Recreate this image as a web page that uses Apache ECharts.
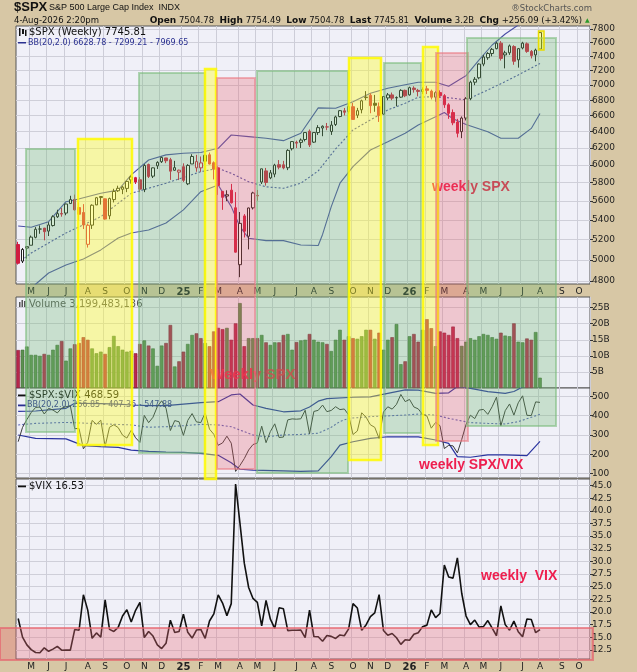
<!DOCTYPE html>
<html><head><meta charset="utf-8">
<script src="https://cdn.jsdelivr.net/npm/echarts@6/dist/echarts.min.js"></script>
<style>html,body{margin:0;padding:0;background:#d7c7a5;}#c{width:637px;height:672px;}</style>
</head><body><div id="c"></div>
<script>
// ---------- DATA ----------
const firstWeek = '2024-04-15';
const weekCount = 132;
const spxOpen = [5149,4987,5114,5142,5221,5305,5315,5284,5341,5432,5466,5471,5572,5615,5529,5477,5151,5345,5557,5637,
5623,5442,5615,5711,5727,5737,5832,5857,5833,5723,6008,5874,5992,6040,6084,6063,5941,5920,5982,5788,
6014,5969,5969,6046,6121,6027,5969,5705,5653,5718,5527,4953,5441,5232,5526,5655,5808,5934,5855,5897,
6005,6004,5970,6193,6270,6269,6304,6406,6272,6389,6445,6457,6401,6489,6590,6662,6654,6715,6606,6676,
6834,6865,6760,6715,6620,6830,6870,6830,6840,6930,6870,6960,6930,6915,6950,6920,6840,6900,6860,6740,
6640,6520,6400,6570,6820,7040,7100,7290,7380,7440,7510,7590,7420,7450,7540,7350,7520,7580,7470,7420,7504.78];
const spxHigh = [5176,5114,5124,5239,5325,5342,5316,5376,5448,5506,5524,5570,5656,5669,5585,5566,5360,5564,5643,5651,
5626,5636,5733,5767,5765,5822,5879,5866,5863,6012,6018,5973,6045,6099,6085,6085,6050,5949,6021,6011,
6128,6120,6101,6128,6147,6043,5986,5705,5716,5787,5696,5482,5460,5528,5700,5720,5959,5968,5944,6016,
6059,6050,6187,6284,6290,6316,6390,6427,6395,6481,6478,6508,6532,6600,6672,6699,6750,6764,6700,6807,
6920,6890,6870,6770,6853,6895,6901,6850,6945,6940,6980,6985,6950,6970,6990,6940,6920,6930,6880,6760,
6680,6560,6590,6840,7060,7110,7300,7420,7460,7520,7610,7620,7480,7570,7560,7520,7610,7600,7490,7510,7754.49];
const spxLow = [4954,4969,5011,5142,5211,5257,5191,5234,5331,5420,5433,5448,5571,5497,5390,5305,5119,5306,5560,5561,
5402,5406,5584,5698,5674,5696,5790,5786,5696,5696,5853,5853,5956,6025,6023,5832,5935,5830,5809,5774,
6014,5924,5923,6003,6009,5837,5666,5505,5598,5572,5070,4835,5220,5101,5509,5603,5786,5768,5840,5862,
5952,5952,5943,6172,6201,6202,6281,6213,6262,6360,6344,6418,6360,6470,6580,6603,6627,6550,6570,6630,
6800,6631,6650,6521,6610,6800,6800,6720,6830,6840,6860,6900,6850,6880,6880,6810,6780,6830,6700,6560,
6480,6330,6320,6540,6800,7000,7080,7260,7350,7400,7500,7340,7230,7420,7280,7240,7500,7450,7370,7330,7504.78];
const spxClose = [4967,5100,5128,5223,5303,5305,5278,5347,5432,5465,5460,5567,5615,5505,5459,5347,5344,5554,5635,5648,
5408,5626,5703,5738,5751,5815,5865,5808,5729,5996,5871,5969,6032,6090,6051,5931,5971,5942,5827,5997,
6101,6041,6026,6115,6013,5955,5770,5639,5668,5581,5074,5363,5283,5525,5687,5660,5958,5803,5912,6000,
5977,5968,6173,6279,6260,6297,6389,6238,6389,6450,6467,6460,6482,6584,6664,6644,6716,6553,6664,6792,
6840,6729,6734,6603,6849,6870,6827,6835,6930,6858,6966,6940,6916,6939,6930,6840,6900,6860,6740,6630,
6510,6380,6570,6820,7040,7080,7290,7390,7440,7500,7590,7370,7450,7550,7330,7510,7590,7470,7410,7489.72,7745.81];
// weekly volume, billions
const volumeB = [11.8,11.9,12.9,10.3,10.3,10.0,10.6,10.3,11.9,13.4,14.6,8.5,12.3,13.6,14.0,15.8,15.0,12.3,10.8,11.3,
10.6,12.7,16.2,13.0,11.9,11.3,11.6,10.8,13.7,14.8,13.2,12.3,6.9,13.2,14.0,19.6,6.7,8.3,11.3,13.7,
16.5,17.0,15.5,14.0,13.0,17.6,18.7,18.3,18.7,15.0,20.1,26.4,13.0,15.5,15.5,15.5,16.5,14.2,13.4,14.2,
14.2,16.5,16.8,11.9,14.3,14.8,15.0,16.8,15.0,14.4,14.2,13.7,11.5,15.0,18.1,15.0,16.1,15.5,15.3,16.1,
18.1,18.1,15.3,17.2,11.9,15.0,15.8,19.9,7.4,8.3,16.1,16.8,14.4,18.1,21.4,18.6,13.0,17.6,17.2,16.5,
19.1,15.5,13.1,14.4,15.5,15.0,16.1,16.8,16.5,15.8,15.3,17.2,16.3,16.1,20.1,14.4,14.2,15.4,15.0,17.4,3.2];
const vix = [18.71,15.03,13.49,12.55,11.99,11.93,12.92,12.22,12.66,13.20,12.44,12.48,12.46,16.52,16.39,23.39,20.37,14.80,15.86,15.00,
22.38,16.56,16.15,16.96,19.21,20.46,18.03,20.33,21.88,14.94,16.14,15.24,13.51,12.77,13.81,18.36,15.95,16.13,19.54,15.97,
14.85,16.43,16.54,14.77,18.21,19.63,23.37,21.77,19.28,21.65,45.31,37.56,29.65,24.84,22.68,21.90,17.24,22.29,18.57,16.77,
20.82,20.62,16.32,16.38,16.40,16.41,14.93,20.38,15.15,15.09,14.22,15.36,15.18,14.76,15.45,15.29,16.65,21.66,20.78,16.37,
17.44,19.08,19.83,23.43,16.35,15.41,15.74,14.91,13.60,14.51,14.4,15.6,15.9,17.1,17.4,20.4,18.9,19.7,29.3,26.9,
26.7,30.7,23.7,19.2,17.5,18.4,17.0,17.1,18.3,16.8,15.3,21.2,17.5,16.4,18.2,16.1,15.1,18.6,18.5,15.9,16.53];
const spxVixRatio = [265.5,339.3,380.1,416.2,442.3,444.7,408.5,437.6,429.1,414.0,438.9,446.1,450.6,333.2,333.1,228.6,262.3,375.3,355.3,376.5,
241.6,339.7,353.1,338.3,299.4,284.2,325.3,285.7,261.8,401.3,363.8,391.7,446.5,476.9,438.2,323.0,374.4,368.4,298.2,375.5,
410.8,367.7,364.3,414.0,330.2,303.4,246.9,259.0,294.0,257.8,112.0,142.8,178.2,222.4,250.7,258.4,345.6,260.3,318.4,357.8,
287.1,289.4,378.2,383.3,381.7,383.7,427.9,306.1,421.7,427.4,454.8,420.6,427.0,446.1,431.3,434.5,403.4,302.5,320.7,414.9,
392.2,352.7,339.6,281.8,418.9,445.8,433.7,458.4,509.6,472.6,483.8,444.9,435.0,405.8,398.3,335.3,365.1,348.2,230.0,246.5,
243.8,207.8,277.2,355.2,402.3,384.8,428.8,432.2,406.6,446.4,496.1,347.6,425.7,460.4,402.7,466.5,502.6,401.6,400.5,471.1,468.6];
// Bollinger bands as [week index, value]
const spxBBUpper = [[0,5337],[3,5323],[7,5381],[11,5592],[13,5610],[19,5683],[23,5718],[26,5888],[30,6060],[34,6120],[38,6140],[42,6148],[46,6198],[49,6359],[53,6339],[57,6319],[61,6290],[65,6381],[69,6700],[73,6696],[77,6781],[81,6891],[85,6958],[89,7006],[92,7040],[96,7040],[99,6985],[102,7093],[103,7130],[106,7348],[109,7563],[112,7725],[115,7860],[118,7930],[120,7970]];
const spxBBMiddle = [[0,4969],[3,5066],[11,5265],[19,5433],[26,5683],[34,5795],[42,5925],[46,5964],[49,5906],[53,5811],[57,5755],[61,5738],[65,5795],[69,5934],[73,6190],[77,6421],[81,6546],[85,6673],[89,6760],[92,6839],[96,6847],[100,6826],[103,6804],[108,6935],[112,7048],[115,7139],[120,7299]];
const spxBBLower = [[0,4600],[4,4770],[7,4874],[11,4950],[15,5008],[19,5096],[23,5215],[26,5265],[30,5296],[34,5367],[38,5504],[42,5701],[46,5775],[49,5539],[51,5329],[53,5212],[57,5188],[61,5188],[65,5145],[69,5140],[70,5250],[72,5539],[74,5795],[77,5983],[81,6178],[85,6277],[89,6380],[92,6483],[96,6588],[98,6640],[100,6560],[103,6490],[108,6400],[111,6319],[115,6319],[118,6440],[120,6629]];
const ratioBBUpper = [[0,422],[4,424],[11,438],[13,464],[19,462],[23,460],[26,455],[30,452],[34,452],[38,460],[42,467],[46,472],[49,507],[51,512],[54,455],[57,438],[61,420],[65,425],[67,445],[69,475],[71,488],[77,495],[81,497],[85,515],[89,533],[92,532],[96,515],[99,518],[101,550],[104,541],[108,524],[112,515],[114,525],[116,548],[118,560],[120,548]];
const ratioBBMiddle = [[0,352],[4,360],[11,365],[19,358],[26,352],[30,340],[34,343],[38,348],[42,355],[46,352],[49,343],[54,300],[57,291],[61,300],[65,303],[69,309],[72,340],[74,370],[76,386],[81,395],[89,403],[92,408],[96,403],[99,386],[104,364],[108,360],[112,357],[115,369],[120,407]];
const ratioBBLower = [[0,300],[4,283],[11,280],[15,245],[19,240],[23,236],[26,222],[30,215],[34,212],[38,210],[42,205],[46,195],[49,157],[51,123],[54,119],[61,115],[65,112],[69,115],[72,188],[74,248],[77,265],[81,283],[85,291],[92,290],[96,274],[99,257],[101,188],[104,185],[108,197],[112,197],[117,193],[120,267]];
const priceTicks = [4800,5000,5200,5400,5600,5800,6000,6200,6400,6600,6800,7000,7200,7400,7600,7800];
const volumeTicks = [5,10,15,20,25];
const ratioTicks = [100,200,300,400,500];
const vixTicks = [12.5,15,17.5,20,22.5,25,27.5,30,32.5,35,37.5,40,42.5,45];
const monthLetters = ['J','F','M','A','M','J','J','A','S','O','N','D'];

// ---------- BUILD ----------
const cats = [];
const t0 = Date.parse(firstWeek + 'T00:00:00Z');
for (let k = 0; k < weekCount; k++) cats.push(new Date(t0 + k * 7 * 86400000).toISOString().slice(0, 10));
const isMonthStart = (idx, val) => parseInt(String(val).slice(8, 10), 10) <= 7;
const monthLabel = (val) => {
  const m = parseInt(val.slice(5, 7), 10) - 1;
  return m === 0 ? '{y|' + val.slice(2, 4) + '}' : monthLetters[m];
};
const L = v => Math.log10(v);
const RED = '#d01c40', BLK = '#1e1e1e';
const candleData = spxClose.map((c, i) => {
  const o = spxOpen[i];
  const prev = i > 0 ? spxClose[i - 1] : o;
  const col = c < prev ? RED : BLK;
  const fill = c > o ? '#ffffff' : col;
  return { value: [L(o), L(c), L(spxLow[i]), L(spxHigh[i])],
    itemStyle: { color: fill, color0: fill, borderColor: col, borderColor0: col, borderWidth: 1 } };
});
const volData = volumeB.map((v, i) => {
  const up = i > 0 ? spxClose[i] >= spxClose[i - 1] : spxClose[i] >= spxOpen[i];
  return { value: v, itemStyle: { color: up ? '#5b9050' : '#b8284c', borderColor: up ? '#3c6a34' : '#8a1434', borderWidth: 0.6 } };
});
const logPairs = a => a.map(p => [p[0], L(p[1])]);

const FONT = 'DejaVu Sans';
const grids = [
  { left: 16, width: 574, top: 26, height: 258 },
  { left: 16, width: 574, top: 297, height: 91 },
  { left: 16, width: 574, top: 388, height: 90 },
  { left: 16, width: 574, top: 479, height: 180 }
].map(g => Object.assign(g, { show: true, backgroundColor: '#f0f0f8', borderColor: '#555', borderWidth: 1 }));

function makeX(gi, showLabel) {
  return { type: 'category', gridIndex: gi, data: cats, boundaryGap: true,
    axisLine: { show: false }, axisTick: { show: false },
    axisLabel: { show: showLabel, interval: isMonthStart, formatter: monthLabel, fontSize: 9, color: '#222',
      margin: 3, fontFamily: FONT, rich: { y: { fontWeight: 'bold', fontSize: 10, fontFamily: FONT, color: '#222' } } },
    splitLine: { show: true, interval: isMonthStart, lineStyle: { color: '#cdcdd8', width: 1 } } };
}
function makeY(gi, min, max, ticks, fmt) {
  return { type: 'value', gridIndex: gi, position: 'right', min: min, max: max,
    axisLine: { show: false },
    axisTick: { show: true, inside: false, length: 3, customValues: ticks, lineStyle: { color: '#333' } },
    axisLabel: { customValues: ticks, formatter: fmt, fontSize: 9, color: '#222', margin: 2, fontFamily: FONT },
    splitLine: { show: true, lineStyle: { color: '#cfcfd9', width: 1 } } };
}
const lineS = (x, data, color, width, dash, z) => ({ type: 'line', xAxisIndex: x, yAxisIndex: x, data: data,
  showSymbol: false, symbol: 'none', silent: true, z: z || 2, clip: true,
  lineStyle: { color: color, width: width, type: dash ? [2, 2] : 'solid' } });

const BBC = '#4a4fa6';
const series = [
  lineS(0, logPairs(spxBBUpper), BBC, 1.1),
  lineS(0, logPairs(spxBBMiddle), BBC, 1.1, true),
  lineS(0, logPairs(spxBBLower), BBC, 1.1),
  { type: 'candlestick', xAxisIndex: 0, yAxisIndex: 0, data: candleData, barWidth: 3, z: 3, silent: true },
  { type: 'bar', xAxisIndex: 1, yAxisIndex: 1, data: volData, barCategoryGap: '18%', silent: true },
  lineS(2, ratioBBUpper, '#2a34a0', 1.2),
  lineS(2, ratioBBMiddle, '#5a62b8', 1.1, true),
  lineS(2, ratioBBLower, '#2a34a0', 1.2),
  lineS(2, spxVixRatio, '#3a3a3a', 1, false, 3),
  lineS(3, vix, '#111', 1.6, false, 3)
];

// ---------- ANNOTATIONS (layout) ----------
const boxStyles = {
  g: { fill: 'rgba(110,185,110,0.30)', stroke: 'rgba(120,185,120,0.55)', lineWidth: 2 },
  y: { fill: 'rgba(255,255,40,0.40)', stroke: 'rgba(255,250,0,0.85)', lineWidth: 2.5 },
  r: { fill: 'rgba(232,90,100,0.28)', stroke: 'rgba(235,120,130,0.55)', lineWidth: 2 }
};
const boxes = [
  ['g', 26, 75, 149, 432], ['y', 78, 132, 139, 445], ['g', 139, 205, 73, 453], ['y', 205, 216, 69, 479],
  ['r', 217, 255, 78, 469], ['g', 257, 348, 71, 473], ['y', 349, 381, 58, 460], ['g', 384, 421, 63, 433],
  ['y', 423, 438, 47, 445], ['r', 436, 468, 53, 441], ['g', 467, 556, 38, 426]
];
const graphic = [];
boxes.forEach(b => graphic.push({ type: 'rect', silent: true, z: 100,
  shape: { x: b[1], y: b[3], width: b[2] - b[1], height: b[4] - b[3] }, style: boxStyles[b[0]] }));
graphic.push({ type: 'rect', silent: true, z: 101, shape: { x: 538.5, y: 31, width: 5.5, height: 19 },
  style: { fill: 'rgba(255,255,0,0.35)', stroke: '#e8dc00', lineWidth: 1.5 } });
graphic.push({ type: 'rect', silent: true, z: 100, shape: { x: 0, y: 628, width: 593, height: 32 },
  style: { fill: 'rgba(235,110,120,0.33)', stroke: 'rgba(230,100,110,0.7)', lineWidth: 2 } });
const txt = (x, y, text, font, fill, z, align) => ({ type: 'text', x: x, y: y, silent: true, z: z || 90,
  style: { text: text, font: font, fill: fill, textAlign: align || 'left', textVerticalAlign: 'middle' } });
const ANN = '#ee1e4e';
graphic.push(txt(432, 187, 'weekly SPX', 'bold 14px "Liberation Sans"', ANN));
graphic.push(txt(210, 375, 'Weekly SPX', 'bold 15px "Liberation Sans"', 'rgba(236,40,70,0.9)'));
graphic.push(txt(419, 465, 'weekly SPX/VIX', 'bold 14px "Liberation Sans"', ANN));
graphic.push(txt(481, 576, 'weekly  VIX', 'bold 14px "Liberation Sans"', ANN));
// panel legends
graphic.push(txt(29, 32, '$SPX (Weekly) 7745.81', '10px "DejaVu Sans"', '#111'));
graphic.push(txt(28, 42.5, 'BB(20,2.0) 6628.78 - 7299.21 - 7969.65', '8px "DejaVu Sans"', '#2a3090'));
graphic.push(txt(29, 304, 'Volume 3,199,483,136', '10px "DejaVu Sans"', '#555'));
graphic.push(txt(29, 395, '$SPX:$VIX 468.59', '10px "DejaVu Sans"', '#111'));
graphic.push(txt(27, 405, 'BB(20,2.0) 266.85 - 407.36 - 547.88', '8px "DejaVu Sans"', '#2a3090'));
graphic.push(txt(29, 486, '$VIX 16.53', '10px "DejaVu Sans"', '#111'));
const icon = (x, y, w, h, fill) => ({ type: 'rect', silent: true, z: 90, shape: { x: x, y: y, width: w, height: h }, style: { fill: fill } });
graphic.push(icon(19, 28, 1.5, 8, '#111'), icon(22, 29, 2, 5, '#111'), icon(25, 30, 1.5, 6, '#111'));
graphic.push(icon(18, 42, 8, 1.5, '#2a3090'));
graphic.push(icon(19, 302, 1.5, 5, '#555'), icon(21.5, 300, 1.5, 7, '#555'), icon(24, 301, 1.5, 6, '#555'));
graphic.push(icon(18, 394.5, 8, 1.8, '#111'), icon(18, 404.5, 8, 1.8, '#2a3090'), icon(18, 485.5, 8, 1.8, '#111'));
// header
graphic.push(txt(14, 7.5, '$SPX', 'bold 13px "Liberation Sans"', '#111', 10));
graphic.push(txt(49, 7.5, 'S&P 500 Large Cap Index  INDX', '9px "Liberation Sans"', '#111', 10));
graphic.push(txt(592, 8.5, '®StockCharts.com', '8.5px "DejaVu Sans"', '#555', 10, 'right'));
graphic.push(txt(14, 21, '4-Aug-2026 2:20pm', '8.5px "DejaVu Sans"', '#111', 10));
graphic.push({ type: 'text', x: 582, y: 21, silent: true, z: 10,
  style: { text: '{b|Open} 7504.78  {b|High} 7754.49  {b|Low} 7504.78  {b|Last} 7745.81  {b|Volume} 3.2B  {b|Chg} +256.09 (+3.42%)',
    font: '8.5px "DejaVu Sans"', fill: '#111', textAlign: 'right', textVerticalAlign: 'middle',
    rich: { b: { fontWeight: 'bold', fontSize: 9, fontFamily: 'DejaVu Sans', fill: '#111' } } } });
graphic.push(txt(585, 20.5, '▲', '6px "DejaVu Sans"', '#2a9a2a', 10));

const chart = echarts.init(document.getElementById('c'), null, { renderer: 'canvas' });
chart.setOption({
  backgroundColor: '#d7c7a5',
  animation: false,
  grid: grids,
  xAxis: [makeX(0, true), makeX(1, false), makeX(2, false), makeX(3, true)],
  yAxis: [
    makeY(0, L(4772), L(7845), priceTicks.map(L), v => String(Math.round(Math.pow(10, v)))),
    makeY(1, 0, 28.3, volumeTicks, v => v + 'B'),
    makeY(2, 77.8, 542.9, ratioTicks, v => String(v)),
    makeY(3, 10.7, 46.3, vixTicks, v => v.toFixed(1))
  ],
  series: series,
  graphic: graphic
});
</script></body></html>
